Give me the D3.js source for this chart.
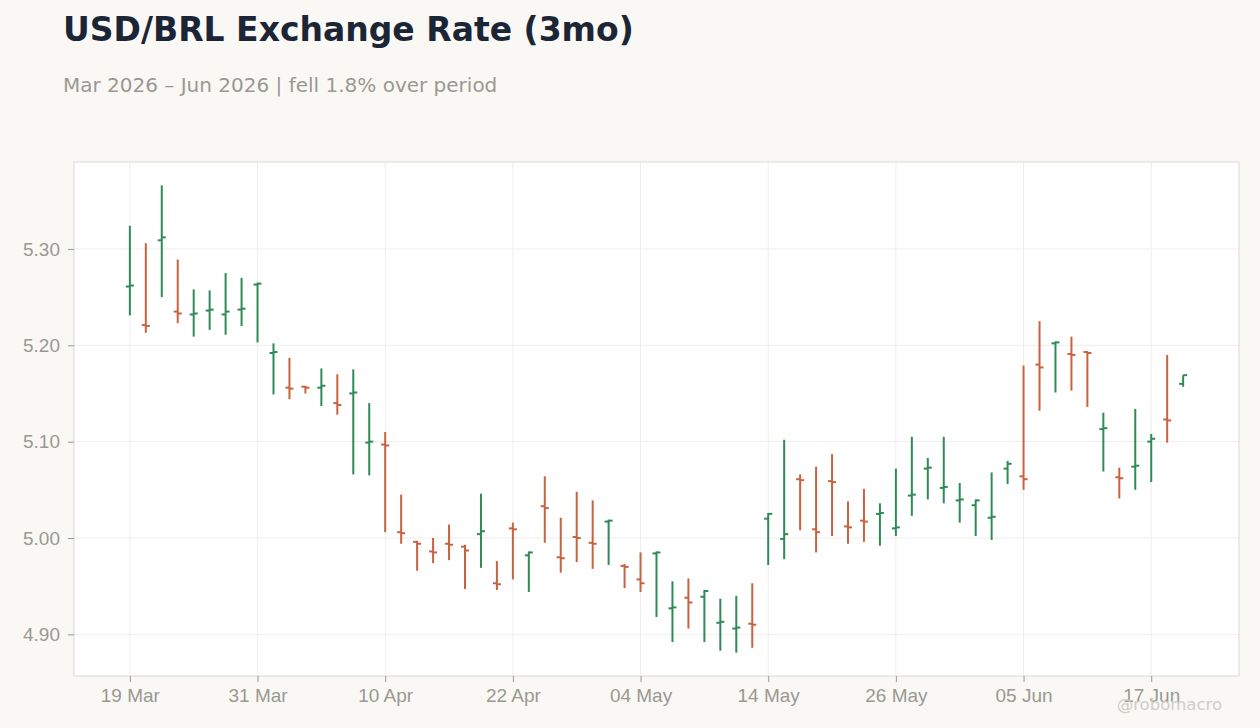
<!DOCTYPE html>
<html>
<head>
<meta charset="utf-8">
<script src="https://cdn.jsdelivr.net/npm/d3@7"></script>
<style>
  body { margin: 0; background: #f9f8f5; }
  svg { display: block; font-family: "DejaVu Sans", sans-serif; }
  .title { font-size: 33px; font-weight: bold; fill: #1b2535; }
  .subtitle { font-size: 20px; fill: #9a9892; }
  .axis text { font-size: 19px; fill: #9a9892; }
  .axis line { stroke: #9a9892; }
  .axis path { display: none; }
  .grid line { stroke: #efeeec; stroke-width: 1; }
  .watermark { font-size: 16.5px; fill: #cfcdc8; }
</style>
</head>
<body>
<div id="chart"></div>
<script>
// trading days, 19 Mar 2026 - 19 Jun 2026
var days = [
  "2026-03-19","2026-03-20","2026-03-23","2026-03-24","2026-03-25","2026-03-26","2026-03-27","2026-03-30","2026-03-31",
  "2026-04-01","2026-04-02","2026-04-03","2026-04-06","2026-04-07","2026-04-08","2026-04-09","2026-04-10",
  "2026-04-13","2026-04-14","2026-04-15","2026-04-16","2026-04-17","2026-04-20","2026-04-21","2026-04-22",
  "2026-04-23","2026-04-24","2026-04-27","2026-04-28","2026-04-29","2026-04-30",
  "2026-05-01","2026-05-04","2026-05-05","2026-05-06","2026-05-07","2026-05-08","2026-05-11","2026-05-12",
  "2026-05-13","2026-05-14","2026-05-15","2026-05-18","2026-05-19","2026-05-20","2026-05-21","2026-05-22",
  "2026-05-25","2026-05-26","2026-05-27","2026-05-28","2026-05-29",
  "2026-06-01","2026-06-02","2026-06-03","2026-06-04","2026-06-05","2026-06-08","2026-06-09","2026-06-10",
  "2026-06-11","2026-06-12","2026-06-15","2026-06-16","2026-06-17","2026-06-18","2026-06-19"
];

var open = [
  5.261, 5.221, 5.309, 5.235, 5.232, 5.236, 5.232, 5.237, 5.263, 5.192,
  5.156, 5.157, 5.156, 5.140, 5.150, 5.099, 5.097, 5.006, 4.996, 4.986,
  4.994, 4.991, 5.004, 4.953, 5.010, 4.982, 5.033, 4.980, 5.001, 4.995,
  5.017, 4.971, 4.957, 4.984, 4.927, 4.938, 4.939, 4.912, 4.906, 4.911,
  5.020, 4.999, 5.061, 5.009, 5.059, 5.012, 5.018, 5.025, 5.010, 5.044,
  5.072, 5.052, 5.039, 5.034, 5.021, 5.072, 5.064, 5.180, 5.202, 5.191,
  5.193, 5.113, 5.063, 5.074, 5.100, 5.123, 5.160
];
var high = [
  5.324, 5.306, 5.366, 5.289, 5.258, 5.257, 5.275, 5.270, 5.265, 5.202,
  5.187, 5.158, 5.176, 5.170, 5.175, 5.140, 5.110, 5.045, 4.997, 5.000,
  5.014, 4.993, 5.046, 4.976, 5.016, 4.986, 5.064, 5.021, 5.048, 5.039,
  5.019, 4.973, 4.985, 4.986, 4.955, 4.958, 4.946, 4.937, 4.940, 4.953,
  5.026, 5.102, 5.066, 5.074, 5.087, 5.038, 5.051, 5.036, 5.072, 5.105,
  5.083, 5.105, 5.057, 5.040, 5.068, 5.080, 5.179, 5.225, 5.204, 5.209,
  5.194, 5.130, 5.073, 5.134, 5.108, 5.190, 5.169
];
var low = [
  5.231, 5.213, 5.250, 5.223, 5.209, 5.216, 5.211, 5.220, 5.203, 5.149,
  5.144, 5.150, 5.137, 5.128, 5.066, 5.065, 5.006, 4.994, 4.966, 4.974,
  4.977, 4.947, 4.969, 4.946, 4.957, 4.944, 4.995, 4.964, 4.975, 4.968,
  4.972, 4.948, 4.944, 4.918, 4.892, 4.906, 4.892, 4.883, 4.881, 4.886,
  4.972, 4.978, 5.008, 4.985, 5.002, 4.994, 4.996, 4.992, 5.002, 5.023,
  5.040, 5.036, 5.016, 5.002, 4.998, 5.056, 5.050, 5.132, 5.151, 5.153,
  5.136, 5.069, 5.041, 5.050, 5.058, 5.099, 5.157
];
var close = [
  5.262, 5.220, 5.312, 5.233, 5.233, 5.237, 5.235, 5.238, 5.264, 5.193,
  5.155, 5.156, 5.158, 5.138, 5.151, 5.100, 5.096, 5.005, 4.994, 4.985,
  4.993, 4.987, 5.007, 4.952, 5.009, 4.985, 5.031, 4.979, 5.000, 4.994,
  5.018, 4.970, 4.953, 4.985, 4.928, 4.933, 4.945, 4.913, 4.907, 4.910,
  5.025, 5.004, 5.060, 5.006, 5.058, 5.011, 5.017, 5.026, 5.011, 5.045,
  5.073, 5.053, 5.040, 5.039, 5.022, 5.077, 5.061, 5.177, 5.203, 5.190,
  5.192, 5.114, 5.062, 5.075, 5.103, 5.122, 5.169
];
var yTicks = [4.90, 5.00, 5.10, 5.20, 5.30];
var tickEvery = 8;

var widthGlobal = 1260,
    heightGlobal = 728,
    margin = {top: 162, right: 21, bottom: 52, left: 74},
    width = widthGlobal - margin.left - margin.right,
    height = heightGlobal - margin.top - margin.bottom,
    upColor = "#2e8b57",
    downColor = "#c8623f";

var parse = d3.timeParse("%Y-%m-%d"),
    fmt = d3.timeFormat("%d %b");

var bars = days.map(function (d, i) {
  return {i: i, date: parse(d), o: open[i], h: high[i], l: low[i], c: close[i]};
});

var lo = d3.min(low), hi = d3.max(high), pad = (hi - lo) * 0.05;

var x = d3.scaleLinear()
    .domain([-3.5, bars.length - 1 + 3.5])
    .range([0, width]);
var y = d3.scaleLinear()
    .domain([lo - pad, hi + pad])
    .range([height, 0]);

var tickIdx = bars.filter(function (d) { return d.i % tickEvery === 0; }).map(function (d) { return d.i; });

var svg = d3.select("#chart").append("svg")
    .attr("width", widthGlobal)
    .attr("height", heightGlobal);

svg.append("text").attr("class", "title")
    .attr("x", 63).attr("y", 41)
    .text("USD/BRL Exchange Rate (3mo)");

// change measured from first close to last close
var change = (close[close.length - 1] - close[0]) / close[0] * 100;
svg.append("text").attr("class", "subtitle")
    .attr("x", 63).attr("y", 92)
    .text("Mar 2026 – Jun 2026 | " + (change < 0 ? "fell " : "rose ") + Math.abs(change).toFixed(1) + "% over period");

var g = svg.append("g")
    .attr("transform", "translate(" + margin.left + "," + margin.top + ")");

g.append("rect")
    .attr("width", width).attr("height", height)
    .attr("fill", "#ffffff");

// grid
g.append("g").attr("class", "grid").selectAll("line")
    .data(yTicks).enter().append("line")
    .attr("x1", 0).attr("x2", width)
    .attr("y1", function (d) { return y(d); })
    .attr("y2", function (d) { return y(d); });
g.append("g").attr("class", "grid").selectAll("line")
    .data(tickIdx).enter().append("line")
    .attr("y1", 0).attr("y2", height)
    .attr("x1", function (d) { return x(d); })
    .attr("x2", function (d) { return x(d); });

g.append("rect")
    .attr("width", width).attr("height", height)
    .attr("fill", "none")
    .attr("stroke", "#ddd8cf");

// axes
g.append("g").attr("class", "axis")
    .attr("transform", "translate(0," + height + ")")
    .call(d3.axisBottom(x)
        .tickValues(tickIdx)
        .tickSize(6).tickPadding(7)
        .tickFormat(function (d) { return fmt(bars[d].date); }));
g.append("g").attr("class", "axis")
    .call(d3.axisLeft(y)
        .tickValues(yTicks)
        .tickSize(6).tickPadding(8)
        .tickFormat(d3.format(".2f")));

// OHLC bars
var ohlc = g.append("g").selectAll("g")
    .data(bars).enter().append("g")
    .attr("stroke", function (d) { return d.c >= d.o ? upColor : downColor; })
    .attr("stroke-width", 2);
ohlc.append("line")
    .attr("x1", function (d) { return x(d.i); })
    .attr("x2", function (d) { return x(d.i); })
    .attr("y1", function (d) { return y(d.h); })
    .attr("y2", function (d) { return y(d.l); });
ohlc.append("line")
    .attr("x1", function (d) { return x(d.i) - 4; })
    .attr("x2", function (d) { return x(d.i); })
    .attr("y1", function (d) { return y(d.o); })
    .attr("y2", function (d) { return y(d.o); });
ohlc.append("line")
    .attr("x1", function (d) { return x(d.i); })
    .attr("x2", function (d) { return x(d.i) + 4; })
    .attr("y1", function (d) { return y(d.c); })
    .attr("y2", function (d) { return y(d.c); });

svg.append("text").attr("class", "watermark")
    .attr("x", 1222).attr("y", 710)
    .attr("text-anchor", "end")
    .text("@robomacro");
</script>
</body>
</html>
